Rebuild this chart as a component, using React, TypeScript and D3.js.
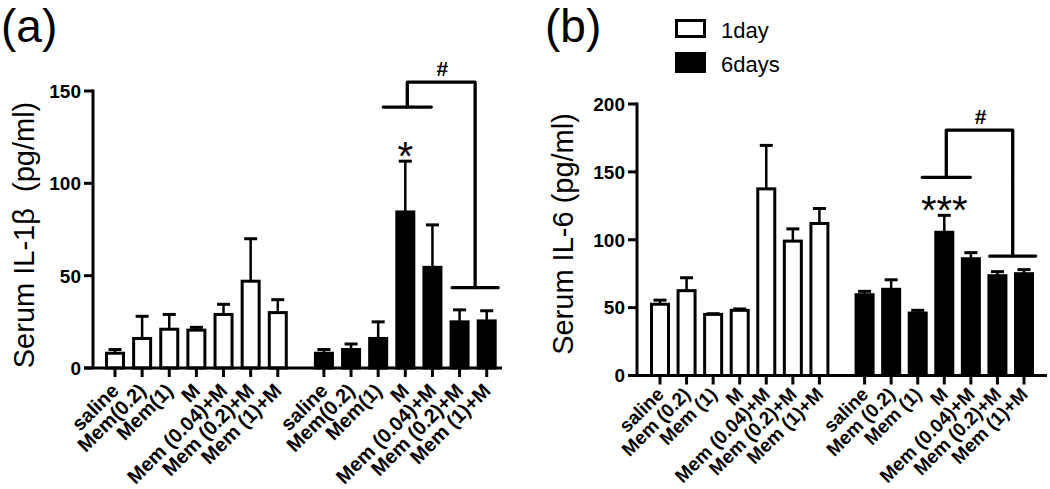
import React from "react";
import * as d3 from "d3";

const catsA = ["saline", "Mem(0.2)", "Mem(1)", "M", "Mem (0.04)+M", "Mem (0.2)+M", "Mem (1)+M"];
const catsB = ["saline", "Mem (0.2)", "Mem (1)", "M", "Mem (0.04)+M", "Mem (0.2)+M", "Mem (1)+M"];

const a1Mean = [8, 16, 21, 20.5, 29, 47, 30];
const a1Err = [2, 12, 8, 1.5, 5.5, 23, 7];
const a6Mean = [8, 10, 16, 84.5, 54.5, 25, 25.5];
const a6Err = [2, 3, 9, 27.5, 23, 6.5, 5.5];

const b1Mean = [52.5, 62.5, 45, 48, 137.5, 99, 112];
const b1Err = [3, 9.5, 0.5, 1, 32, 9, 11];
const b6Mean = [59.5, 63.5, 46, 105.5, 86, 73.5, 75];
const b6Err = [2.5, 7, 2, 12.5, 4.5, 3, 3];

const ticksA = [0, 50, 100, 150];
const ticksB = [0, 50, 100, 150, 200];

const FONT = "'Liberation Sans', Arial, Helvetica, sans-serif";

type Bracket = { left: number; right: [number, number]; lowY: number; topY: number; rightY: number; star: string };

const bracketA: Bracket = { left: 3, right: [5, 6], lowY: 141.3, topY: 154.8, rightY: 43.5, star: "*" };
const bracketB: Bracket = { left: 3, right: [5, 6], lowY: 146, topY: 180.8, rightY: 88, star: "***" };

type PanelProps = {
  cats: string[];
  m1: number[]; e1: number[]; m6: number[]; e6: number[];
  ticks: number[]; yMax: number;
  axisX: number; x0: number; x1: number; y0: number; y1: number; xEnd: number;
  title: string; titleX: number; titleY: number;
  labelDy: number; labelSize: number;
  bracket: Bracket;
};

const GAP = 1.7;

function Panel(p: PanelProps) {
  const x = d3.scaleLinear().domain([0, 6 + GAP + 6]).range([p.x0, p.x1]);
  const y = d3.scaleLinear().domain([0, p.yMax]).range([p.y0, p.y1]);
  const pos = (g: number, i: number) => x(g === 0 ? i : i + 6 + GAP);
  const bars: { cx: number; m: number; e: number; dark: boolean; label: string }[] = [];
  p.m1.forEach((m, i) => bars.push({ cx: pos(0, i), m, e: p.e1[i], dark: false, label: p.cats[i] }));
  p.m6.forEach((m, i) => bars.push({ cx: pos(1, i), m, e: p.e6[i], dark: true, label: p.cats[i] }));
  const bw = 20;
  const sw = 3;
  const b = p.bracket;
  const lx = pos(1, b.left) + 2;
  const rx = (pos(1, b.right[0]) + pos(1, b.right[1])) / 2 + 2;
  const starTop = y(p.m6[b.left] + p.e6[b.left]);
  return (
    <g>
      <text
        transform={`translate(${p.titleX},${p.titleY}) rotate(-90)`}
        textAnchor="middle"
        fontFamily={FONT}
        fontSize={29}
        fill="#000"
      >
        {p.title}
      </text>
      {bars.map((d, i) => (
        <g key={"e" + i} stroke="#000" strokeWidth={2.5}>
          <line x1={d.cx} x2={d.cx} y1={y(d.m)} y2={y(d.m + d.e)} />
          <line x1={d.cx - 6.5} x2={d.cx + 6.5} y1={y(d.m + d.e)} y2={y(d.m + d.e)} strokeWidth={3} />
        </g>
      ))}
      {bars.map((d, i) => (
        <rect
          key={"b" + i}
          x={d.cx - bw / 2 + sw / 2}
          y={y(d.m)}
          width={bw - sw}
          height={y(0) - y(d.m)}
          fill={d.dark ? "#000" : "#fff"}
          stroke="#000"
          strokeWidth={sw}
        />
      ))}
      <line x1={p.axisX} x2={p.axisX} y1={y(p.yMax) - 1.5} y2={y(0)} stroke="#000" strokeWidth={3} />
      {p.ticks.map((t) => (
        <g key={"t" + t}>
          <line x1={p.axisX - 9} x2={p.axisX} y1={y(t)} y2={y(t)} stroke="#000" strokeWidth={3} />
          <text
            x={p.axisX - 12}
            y={y(t)}
            dy="0.36em"
            textAnchor="end"
            fontFamily={FONT}
            fontWeight="bold"
            fontSize={19}
          >
            {t}
          </text>
        </g>
      ))}
      <line x1={p.axisX - 9} x2={p.xEnd} y1={y(0)} y2={y(0)} stroke="#000" strokeWidth={3} />
      {bars.map((d, i) => (
        <g key={"xt" + i}>
          <line x1={d.cx} x2={d.cx} y1={y(0)} y2={y(0) + 9} stroke="#000" strokeWidth={3} />
          <text
            transform={`translate(${d.cx + 5},${y(0) + p.labelDy}) rotate(-45)`}
            textAnchor="end"
            fontFamily={FONT}
            fontWeight="bold"
            fontSize={p.labelSize}
          >
            {d.label}
          </text>
        </g>
      ))}
      <g stroke="#000" strokeWidth={3.3} fill="none" strokeLinecap="round">
        <line x1={lx - 24} x2={lx + 24} y1={y(b.lowY)} y2={y(b.lowY)} />
        <polyline points={`${lx},${y(b.lowY)} ${lx},${y(b.topY)} ${rx},${y(b.topY)} ${rx},${y(b.rightY)}`} strokeLinejoin="round" />
        <line x1={rx - 23} x2={rx + 23} y1={y(b.rightY)} y2={y(b.rightY)} />
      </g>
      <text x={(lx + rx) / 2 + 1} y={y(b.topY) - 6} textAnchor="middle" fontFamily={FONT} fontWeight="bold" fontSize={21}>
        #
      </text>
      <text x={pos(1, b.left)} y={starTop + 9} textAnchor="middle" fontFamily={FONT} fontSize={40}>
        {b.star}
      </text>
    </g>
  );
}

export default function App() {
  return (
    <svg
      width={1050}
      height={489}
      viewBox="0 0 1050 489"
      style={{ position: "absolute", left: 0, top: 0, background: "#fff" }}
    >
      <rect width={1050} height={489} fill="#fff" />
      <text x={1} y={42} fontFamily={FONT} fontSize={46}>(a)</text>
      <text x={545} y={42} fontFamily={FONT} fontSize={46}>(b)</text>
      <rect x={676.5} y={20.5} width={28} height={16} fill="#fff" stroke="#000" strokeWidth={3} />
      <rect x={675} y={52} width={31} height={21} fill="#000" />
      <text x={721} y={37.5} fontFamily={FONT} fontSize={22}>1day</text>
      <text x={721} y={71.5} fontFamily={FONT} fontSize={22}>6days</text>
      <Panel
        cats={catsA} m1={a1Mean} e1={a1Err} m6={a6Mean} e6={a6Err}
        ticks={ticksA} yMax={150}
        axisX={93} x0={115} x1={486.7} y0={368} y1={91} xEnd={502}
        title={"Serum IL-1\u03B2\u00A0 (pg/ml)"} titleX={34} titleY={235}
        labelDy={24} labelSize={20}
        bracket={bracketA}
      />
      <Panel
        cats={catsB} m1={b1Mean} e1={b1Err} m6={b6Mean} e6={b6Err}
        ticks={ticksB} yMax={200}
        axisX={637} x0={660} x1={1024} y0={375.5} y1={104} xEnd={1047}
        title={"Serum IL-6 (pg/ml)"} titleX={573} titleY={234}
        labelDy={20} labelSize={19}
        bracket={bracketB}
      />
    </svg>
  );
}
